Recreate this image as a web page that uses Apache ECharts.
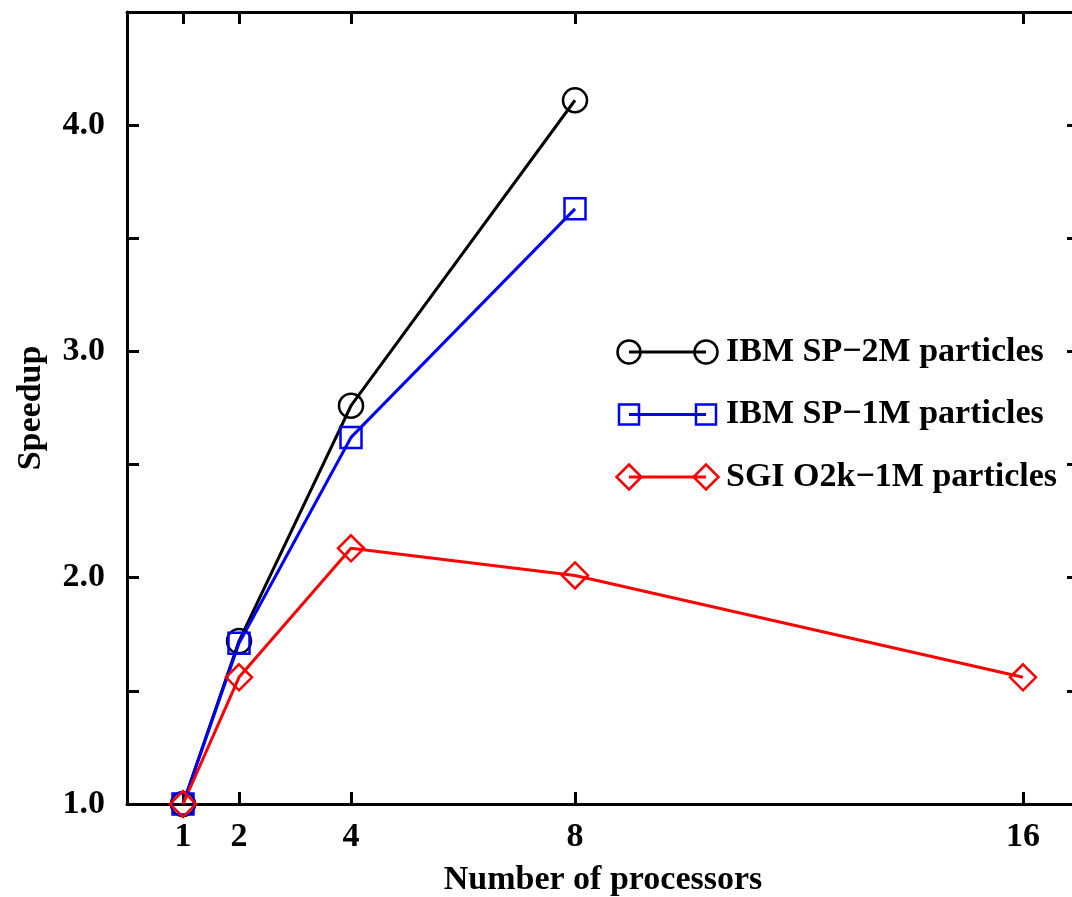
<!DOCTYPE html>
<html>
<head>
<meta charset="utf-8">
<script src="https://cdn.jsdelivr.net/npm/echarts@6/dist/echarts.min.js"></script>
<style>
  html,body{margin:0;padding:0;background:#fff;}
  #container1{width:1072px;height:897px;}
</style>
</head>
<body>
<div id="container1"></div>
<script>
// data
var procs = [1, 2, 4, 8, 16];
var ibm2M = [1.0, 1.72, 2.76, 4.11];
var ibm1M = [1.0, 1.71, 2.62, 3.63];
var sgi1M = [1.0, 1.56, 2.13, 2.01, 1.56];
var names = ['IBM SP\u22122M particles', 'IBM SP\u22121M particles', 'SGI O2k\u22121M particles'];
var colors = ['#000000', '#0000ff', '#ff0000'];
var yLabels = [1, 2, 3, 4];

var font = 'Liberation Serif';

function pairs(xs, ys){
  var out = [];
  for (var i = 0; i < ys.length; i++) out.push([xs[i], ys[i]]);
  return out;
}

var myChart = echarts.init(document.getElementById('container1'));

function xAx(pos, showLabel){
  return {
    type: 'value', position: pos, min: 0, max: 17, interval: 1,
    axisLine: {show: true, onZero: false, lineStyle: {color: '#000', width: 3}},
    axisTick: {show: true, inside: true, length: 12, customValues: procs, lineStyle: {color: '#000', width: 3}},
    axisLabel: {show: showLabel, customValues: procs, margin: 16, color: '#000', fontSize: 34, fontWeight: 'bold', fontFamily: font},
    splitLine: {show: false},
    name: showLabel ? 'Number of processors' : '',
    nameLocation: 'middle', nameGap: 59,
    nameTextStyle: {color: '#000', fontSize: 34, fontWeight: 'bold', fontFamily: font}
  };
}
function yAx(pos, showLabel){
  return {
    type: 'value', position: pos, min: 1, max: 4.5, interval: 0.5,
    axisLine: {show: true, onZero: false, lineStyle: {color: '#000', width: 3}},
    axisTick: {show: true, inside: true, length: 12, lineStyle: {color: '#000', width: 3}},
    axisLabel: {show: showLabel, customValues: yLabels, margin: 22, color: '#000', fontSize: 34, fontWeight: 'bold', fontFamily: font,
      formatter: function(v){ return v.toFixed(1); }},
    splitLine: {show: false},
    name: showLabel ? 'Speedup' : '',
    nameLocation: 'middle', nameGap: 79,
    nameTextStyle: {color: '#000', fontSize: 34, fontWeight: 'bold', fontFamily: font}
  };
}

function ser(name, data, color, symbol, size){
  return {
    name: name, type: 'line', data: pairs(procs, data),
    symbol: symbol, symbolSize: size, showAllSymbol: true,
    lineStyle: {color: color, width: 3},
    itemStyle: {color: 'transparent', borderColor: color, borderWidth: 2.5},
    emphasis: {disabled: true},
    z: 3
  };
}

// legend drawn by hand: line with a marker at each end
var legendRows = [];
var symbols = ['circle', 'square', 'diamond'];
for (var i = 0; i < 3; i++){
  var cy = 352 + i * 62.5;
  var c = colors[i];
  var kids = [{type: 'line', shape: {x1: 629, y1: cy, x2: 706, y2: cy}, style: {stroke: c, lineWidth: 3}}];
  [629, 706].forEach(function(cx){
    var st = {fill: 'none', stroke: c, lineWidth: 2.5};
    if (symbols[i] === 'circle') kids.push({type: 'circle', shape: {cx: cx, cy: cy, r: 11.5}, style: st});
    else if (symbols[i] === 'square') kids.push({type: 'rect', shape: {x: cx - 10, y: cy - 10, width: 20, height: 20}, style: st});
    else kids.push({type: 'polygon', shape: {points: [[cx, cy - 12.5], [cx + 12.5, cy], [cx, cy + 12.5], [cx - 12.5, cy]]}, style: st});
  });
  kids.push({type: 'text', style: {x: 726, y: cy, text: names[i], fill: '#000', font: 'bold 34px "Liberation Serif"', verticalAlign: 'middle'}});
  legendRows.push({type: 'group', children: kids});
}

var option = {
  animation: false,
  backgroundColor: '#fff',
  // frame's right edge lies a few px past the picture
  grid: {left: 127, right: -7, top: 12, bottom: 93, outerBoundsMode: 'none'},
  xAxis: [xAx('bottom', true), xAx('top', false)],
  yAxis: [yAx('left', true), yAx('right', false)],
  series: [
    ser(names[0], ibm2M, colors[0], 'circle', 24),
    ser(names[1], ibm1M, colors[1], 'rect', 21),
    ser(names[2], sgi1M, colors[2], 'diamond', 26)
  ],
  graphic: legendRows
};
myChart.setOption(option);
</script>
</body>
</html>
